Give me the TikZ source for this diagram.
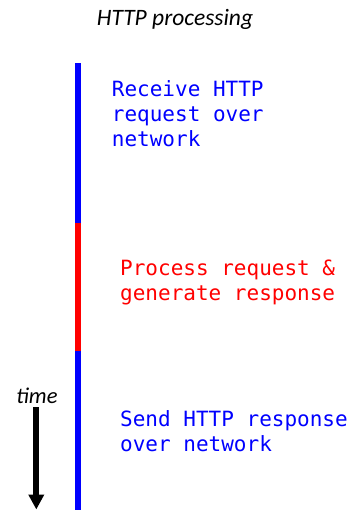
\documentclass[tikz,border=0pt]{standalone}
\usepackage{fontspec}
\usetikzlibrary{arrows.meta}
\setmainfont{Carlito}
\newfontfamily\stepmono{DejaVu Sans Mono}
\begin{document}
\begin{tikzpicture}[x=1pt,y=-1pt,
  phase/.style={line width=6pt},
  steptext/.style={font=\stepmono\fontsize{21}{25}\selectfont, align=left, anchor=base west, inner sep=0pt},
  itlabel/.style={font=\itshape\fontsize{23.5}{26}\selectfont, inner sep=0pt, anchor=base}]
\useasboundingbox (0,0) rectangle (354,510);
\coordinate (p0) at (78,63.3);
\coordinate (p1) at (78,223.3);
\coordinate (p2) at (78,351);
\coordinate (p3) at (78,510);
\draw[phase, blue] (p0) -- (p1);
\draw[phase, red] (p1) -- (p2);
\draw[phase, blue] (p2) -- (p3);
\node[itlabel] (title) at (175,26) {HTTP processing};
\node[steptext, text=blue] (recv) at (111.7,147) {Receive HTTP\\request over\\network};
\node[steptext, text=red] (proc) at (120,300) {Process request \&\\generate response};
\node[steptext, text=blue] (send) at (120,451) {Send HTTP response\\over network};
\node[itlabel, font=\itshape\fontsize{22.5}{26}\selectfont] (time) at (37,403) {time};
\coordinate (tstart) at (36.3,407);
\coordinate (tend) at (36.3,509.5);
\draw[line width=6pt, -{Triangle[width=15pt,length=15pt]}] (tstart) -- (tend);
\end{tikzpicture}
\end{document}
